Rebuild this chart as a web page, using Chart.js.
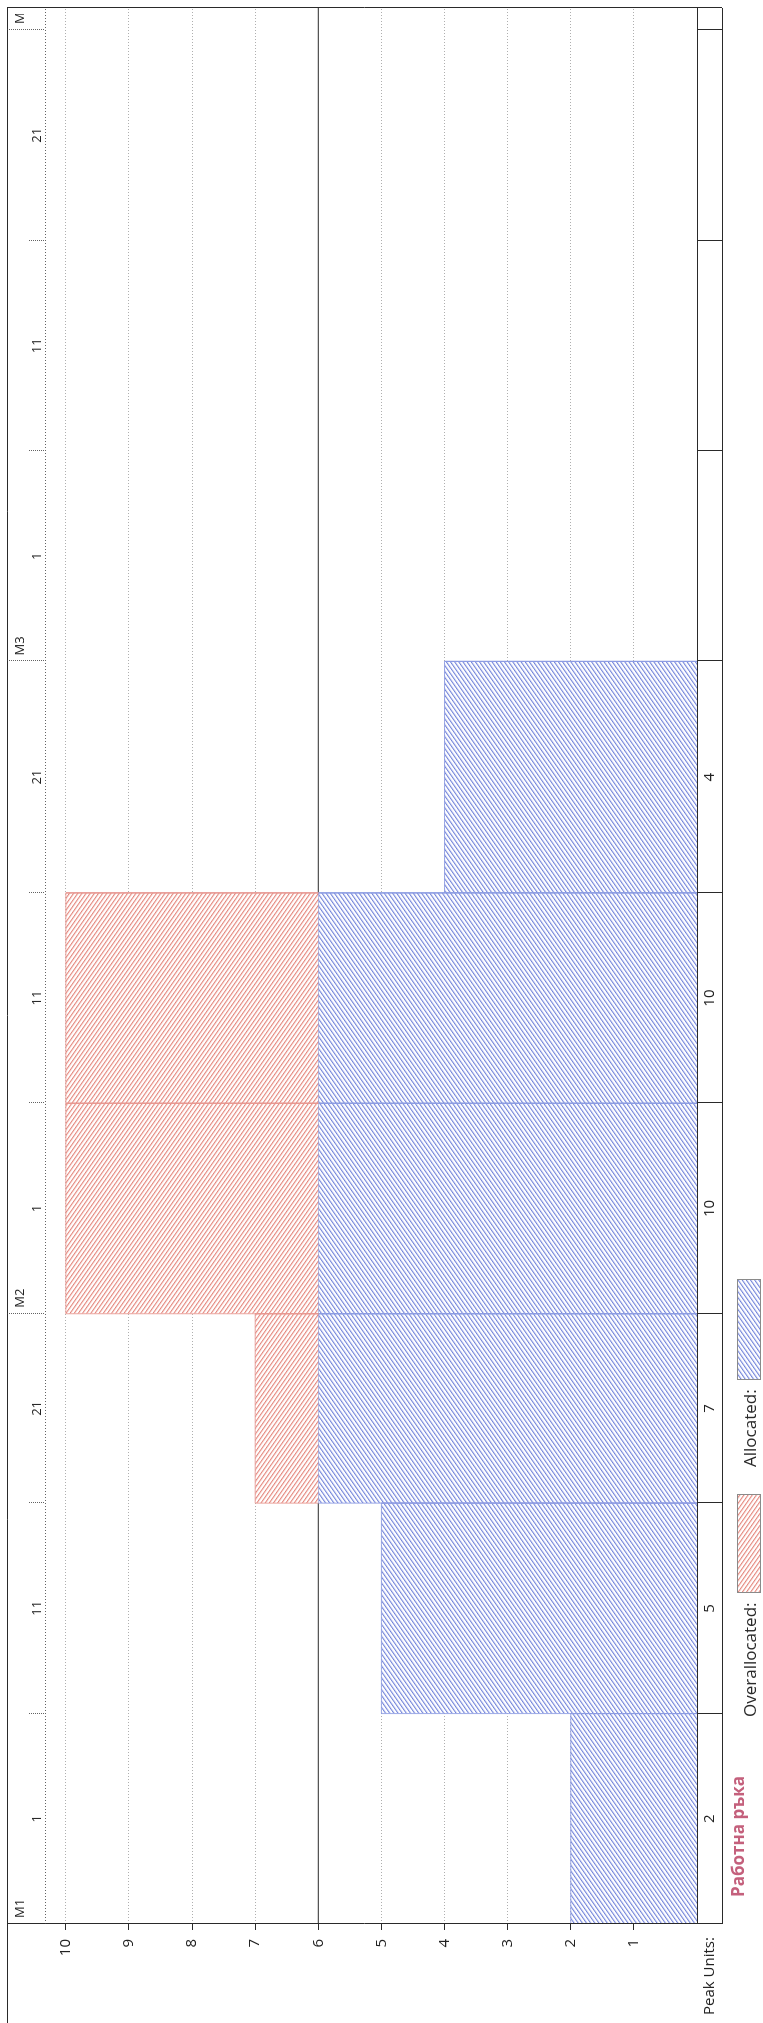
<!DOCTYPE html>
<html>
<head>
<meta charset="utf-8">
<script src="https://cdn.jsdelivr.net/npm/chart.js@4.4.1/dist/chart.umd.min.js"></script>
<style>
  html, body { margin: 0; padding: 0; background: #fff; overflow: hidden; }
  /* the graph is printed sideways: draw it upright, then turn it */
  #wrap {
    position: absolute; left: 0; top: 0;
    width: 2023px; height: 763px;
    transform-origin: 0 0;
    transform: translate(0, 2023px) rotate(-90deg);
  }
</style>
</head>
<body>
<div id="wrap"><canvas id="graph" width="2023" height="763"></canvas></div>
<script>
// timescale, in days counted from the first day of M1
const monthLabels = ['M1', 'M2', 'M3', 'M4'];
const monthStarts = [0, 29, 60, 90];
const dayLabels = ['1', '11', '21', '1', '11', '21', '1', '11', '21'];
const periodStarts = [0, 10, 20, 29, 39, 49, 60, 70, 80, 90];
const timelineEnd = 91.05;

// resource graph, one value per period
const peakUnits = [2, 5, 7, 10, 10, 4];
const allocated = [2, 5, 6, 6, 6, 4];
const overallocated = [0, 0, 1, 4, 4, 0];
const maxUnits = 6;

const valueTicks = [1, 2, 3, 4, 5, 6, 7, 8, 9, 10];
const resourceName = 'Работна ръка';

const FONT = '"Open Sans", "Noto Sans", sans-serif';

const periods = periodStarts.map((s, i) => ({
  start: s,
  end: i + 1 < periodStarts.length ? periodStarts[i + 1] : timelineEnd
}));

// diagonal hatch fills
function hatch(color, angle) {
  const tile = document.createElement('canvas');
  tile.width = 4; tile.height = 4;
  const t = tile.getContext('2d');
  t.fillStyle = '#fff';
  t.fillRect(0, 0, 4, 4);
  t.fillStyle = color;
  t.fillRect(0, 0, 4, 1.3);
  const p = t.createPattern(tile, 'repeat');
  p.setTransform(new DOMMatrix().scaleSelf(0.85).rotateSelf(angle));
  return p;
}
const blueHatch = hatch('rgb(112,130,218)', -35);
const redHatch = hatch('rgb(228,132,122)', 35);
const blueEdge = 'rgba(140,155,226,0.85)';
const redEdge = 'rgba(232,150,145,0.85)';

const datasets = [];
allocated.forEach((v, i) => {
  const p = periods[i];
  datasets.push({
    label: 'Allocated',
    data: [{x: p.start, y: 0}, {x: p.start, y: v}, {x: p.end, y: v}, {x: p.end, y: 0}],
    borderColor: blueEdge,
    borderWidth: 1,
    backgroundColor: blueHatch,
    fill: 'origin',
    pointRadius: 0,
    tension: 0,
    order: 2
  });
});
overallocated.forEach((v, i) => {
  if (!v) return;
  const p = periods[i];
  datasets.push({
    label: 'Overallocated',
    data: [{x: p.start, y: maxUnits}, {x: p.start, y: maxUnits + v},
           {x: p.end, y: maxUnits + v}, {x: p.end, y: maxUnits}],
    borderColor: redEdge,
    borderWidth: 1,
    backgroundColor: redHatch,
    fill: {value: maxUnits},
    pointRadius: 0,
    tension: 0,
    order: 1
  });
});
// max units line, under the bars
datasets.push({
  label: 'Max Units',
  data: [{x: 0, y: maxUnits}, {x: timelineEnd, y: maxUnits}],
  borderColor: '#2a2a2a',
  borderWidth: 1,
  pointRadius: 0,
  fill: false,
  order: 5
});

function hline(ctx, x1, x2, y, color, dash) {
  ctx.beginPath();
  ctx.setLineDash(dash || []);
  ctx.strokeStyle = color;
  ctx.lineWidth = 1;
  ctx.moveTo(x1, Math.round(y) + 0.5);
  ctx.lineTo(x2, Math.round(y) + 0.5);
  ctx.stroke();
}
function vline(ctx, x, y1, y2, color, dash) {
  ctx.beginPath();
  ctx.setLineDash(dash || []);
  ctx.strokeStyle = color;
  ctx.lineWidth = 1;
  ctx.moveTo(Math.round(x) + 0.5, y1);
  ctx.lineTo(Math.round(x) + 0.5, y2);
  ctx.stroke();
}

// timescale header, peak units row, frame and legend
const framePlugin = {
  id: 'frame',
  afterDraw(chart) {
    const ctx = chart.ctx;
    const area = chart.chartArea;
    const xs = chart.scales.x;
    const top = 7, rowBottom = 722;
    const dark = '#2a2a2a', dots = 'rgba(60,60,60,0.8)';
    ctx.save();

    // frame
    hline(ctx, 0, area.right, top, dark);
    vline(ctx, area.right, top, rowBottom, dark);
    vline(ctx, area.left, top, rowBottom, dark);
    hline(ctx, area.left, area.right, area.top, dots, [1, 2]);
    hline(ctx, area.left, area.right, area.bottom, dark);
    hline(ctx, area.left, area.right, rowBottom, dark);

    // period boundaries
    periodStarts.forEach(s => {
      const px = xs.getPixelForValue(s);
      if (px > area.right) return;
      vline(ctx, px, area.bottom, rowBottom, dark);
      if (s === 0) return;
      if (monthStarts.includes(s)) vline(ctx, px, top, area.top, dots, [1, 1]);
      else vline(ctx, px, 29, area.top, dots, [1, 1]);
    });

    // header texts, clipped at the right edge
    ctx.save();
    ctx.beginPath();
    ctx.rect(area.left, 0, area.right - 6 - area.left, area.top);
    ctx.clip();
    ctx.fillStyle = '#222';
    ctx.textBaseline = 'middle';
    ctx.font = '13px ' + FONT;
    ctx.textAlign = 'left';
    monthLabels.forEach((m, i) => {
      ctx.fillText(m, xs.getPixelForValue(monthStarts[i]) + 6, 20);
    });
    ctx.textAlign = 'center';
    dayLabels.forEach((d, i) => {
      const p = periods[i];
      ctx.fillText(d, xs.getPixelForValue((p.start + p.end) / 2), 37);
    });
    ctx.restore();

    // peak units row
    ctx.fillStyle = '#222';
    ctx.textBaseline = 'middle';
    ctx.font = '15px ' + FONT;
    ctx.textAlign = 'center';
    peakUnits.forEach((v, i) => {
      const p = periods[i];
      ctx.fillText(String(v), xs.getPixelForValue((p.start + p.end) / 2), 710);
    });
    ctx.textAlign = 'left';
    ctx.fillText('Peak Units:', 8, 710);

    // legend
    ctx.font = 'bold 17px ' + FONT;
    ctx.fillStyle = '#c4607c';
    ctx.fillText(resourceName, 126, 739);
    ctx.font = '17px ' + FONT;
    ctx.fillStyle = '#2a2a2a';
    ctx.fillText('Overallocated:', 306, 751);
    ctx.fillText('Allocated:', 556, 751);
    ctx.fillStyle = redHatch;
    ctx.fillRect(430, 737, 98, 23);
    ctx.setLineDash([]);
    ctx.strokeStyle = '#8a8a8a';
    ctx.strokeRect(430.5, 737.5, 98, 23);
    ctx.fillStyle = blueHatch;
    ctx.fillRect(643, 737, 100, 23);
    ctx.strokeRect(643.5, 737.5, 100, 23);

    ctx.restore();
  }
};

new Chart(document.getElementById('graph').getContext('2d'), {
  type: 'line',
  data: { datasets },
  options: {
    responsive: false,
    maintainAspectRatio: false,
    devicePixelRatio: 1,
    animation: false,
    layout: { padding: { left: 0, right: 8, top: 45, bottom: 66 } },
    plugins: {
      legend: { display: false },
      tooltip: { enabled: false }
    },
    scales: {
      x: { type: 'linear', min: 0, max: timelineEnd, display: false },
      y: {
        type: 'linear',
        min: 0,
        max: 10.33,
        afterBuildTicks: s => { s.ticks = valueTicks.map(v => ({ value: v })); },
        afterFit: s => { s.width = 99; },
        ticks: { color: '#222', font: { family: FONT, size: 15 }, padding: 9, autoSkip: false },
        grid: {
          color: c => (c.tick && c.tick.value === maxUnits) ? 'rgba(0,0,0,0)' : 'rgba(110,110,110,0.55)',
          tickLength: 6,
          tickColor: '#2a2a2a',
          lineWidth: 1
        },
        border: { display: false, dash: [1, 2] }
      }
    }
  },
  plugins: [framePlugin]
});
</script>
</body>
</html>
